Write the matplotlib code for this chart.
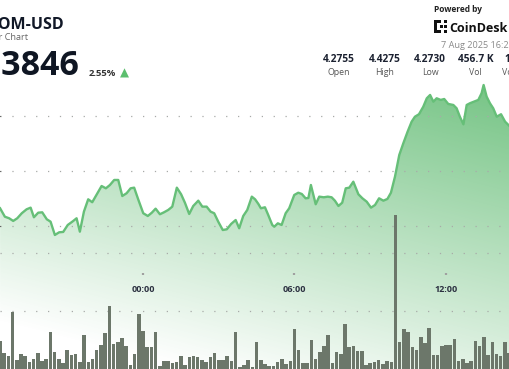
import numpy as np
import matplotlib
matplotlib.use("Agg")
import matplotlib.pyplot as plt
from matplotlib.patches import Rectangle

plt.rcParams['font.family'] = ['Open Sans', 'DejaVu Sans']

# ==========================
# data
# ==========================
# hours relative to 00:00 on 7 Aug 2025
price_hours = [-5.66, -5.47, -5.30, -5.14, -4.98, -4.80, -4.61, -4.45, -4.32, -4.15,
               -3.99, -3.81, -3.66, -3.49, -3.32, -3.16, -2.98, -2.78, -2.63, -2.50,
               -2.34, -2.17, -2.01, -1.83, -1.64, -1.47, -1.31, -1.14, -0.98, -0.82,
               -0.65, -0.49, -0.35, -0.19, 0.01, 0.19, 0.35, 0.50, 0.67, 0.83,
               1.00, 1.16, 1.34, 1.51, 1.66, 1.83, 1.99, 2.19, 2.35, 2.52,
               2.68, 2.82, 2.98, 3.16, 3.32, 3.49, 3.67, 3.81, 3.97, 4.13,
               4.31, 4.44, 4.57, 4.67, 4.83, 4.96, 5.12, 5.20, 5.34, 5.49,
               5.65, 5.79, 5.99, 6.15, 6.29, 6.44, 6.55, 6.65, 6.84, 6.98,
               7.16, 7.32, 7.47, 7.60, 7.74, 7.89, 8.03, 8.17, 8.33, 8.53,
               8.69, 8.86, 9.03, 9.19, 9.35, 9.52, 9.68, 9.82, 9.98, 10.15,
               10.31, 10.48, 10.64, 10.77, 10.93, 11.10, 11.24, 11.37, 11.50, 11.63,
               11.79, 11.93, 12.09, 12.29, 12.42, 12.55, 12.69, 12.82, 12.95, 13.11,
               13.28, 13.41, 13.49, 13.61, 13.74, 13.87, 14.01, 14.18, 14.34, 14.54]
prices = [4.2993, 4.2901, 4.2884, 4.2855, 4.2884, 4.2939, 4.2982, 4.3000, 4.2895, 4.2945,
          4.2949, 4.2873, 4.2847, 4.2702, 4.2731, 4.2735, 4.2811, 4.2851, 4.2884, 4.2738,
          4.2956, 4.3091, 4.3059, 4.3146, 4.3236, 4.3211, 4.3247, 4.3302, 4.3302, 4.3127,
          4.3157, 4.3211, 4.3218, 4.3091, 4.2939, 4.2909, 4.2945, 4.2989, 4.2928, 4.2949,
          4.2975, 4.3011, 4.3218, 4.3146, 4.3054, 4.2931, 4.3018, 4.3076, 4.3011, 4.3011,
          4.2956, 4.2939, 4.2847, 4.2756, 4.2764, 4.2822, 4.2865, 4.2775, 4.2909, 4.2975,
          4.3120, 4.3091, 4.3040, 4.2993, 4.3004, 4.2920, 4.2811, 4.2792, 4.2829, 4.2811,
          4.2939, 4.2993, 4.3138, 4.3163, 4.3149, 4.3102, 4.3105, 4.3247, 4.3037, 4.3120,
          4.3113, 4.3120, 4.3113, 4.3076, 4.3018, 4.3054, 4.3211, 4.3218, 4.3283, 4.3146,
          4.3102, 4.3065, 4.3000, 4.3029, 4.3102, 4.3076, 4.3095, 4.3163, 4.3338, 4.3575,
          4.3702, 4.3829, 4.3938, 4.3992, 4.4019, 4.4101, 4.4193, 4.4229, 4.4156, 4.4193,
          4.4175, 4.4185, 4.4131, 4.4120, 4.4084, 4.3992, 4.3909, 4.4120, 4.4139, 4.4156,
          4.4175, 4.4248, 4.4338, 4.4211, 4.4139, 4.4084, 4.3992, 4.4019, 4.3938, 4.3883]

# 10 minute volume bars (thousand ATOM), first bar at 18:20
vol_start_hour = -5 - 40 / 60
volumes = [4.88, 2.71, 2.29, 9.83, 1.55, 2.53, 2.24, 1.16, 1.67, 2.71,
           1.43, 1.78, 6.43, 2.88, 1.67, 1.09, 3.22, 2.36, 2.64, 1.21,
           5.86, 1.21, 1.72, 3.28, 4.14, 6.15, 10.91, 4.31, 4.60, 5.34,
           3.97, 0.64, 2.53, 9.53, 6.50, 3.84, 3.84, 6.38, 0.47, 1.43,
           1.43, 0.98, 1.21, 2.24, 0.74, 2.02, 2.29, 2.07, 1.55, 1.21,
           2.02, 2.81, 1.50, 1.50, 2.24, 1.43, 6.43, 0.29, 0.69, 1.50,
           0.40, 4.60, 1.55, 0.86, 0.57, 0.52, 1.21, 1.78, 0.81, 1.38,
           6.84, 3.22, 1.09, 0.98, 5.00, 1.78, 2.88, 4.02, 5.81, 1.03,
           2.88, 2.53, 7.71, 3.84, 3.97, 3.15, 3.15, 0.74, 1.09, 1.26,
           1.55, 0.81, 1.43, 1.16, 26.55, 4.60, 6.84, 6.38, 3.79, 3.28,
           5.57, 4.43, 7.07, 2.47, 2.47, 3.91, 4.19, 4.19, 5.12, 1.33,
           1.78, 1.09, 1.38, 4.88, 3.97, 5.47, 2.41, 4.60, 2.53, 2.29,
           4.66, 2.76]

tick_hours = [-6, 0, 6, 12]
tick_labels = ["18:00", "00:00", "06:00", "12:00"]

stat_values = ["4.2755", "4.4275", "4.2730", "456.7 K", "1.95 M"]
stat_names = ["Open", "High", "Low", "Vol", "Vol (USD)"]

W, H = 510, 369
green = '#5cb96e'

fig = plt.figure(figsize=(W / 100, H / 100), dpi=100)
ax = fig.add_axes([0, 0, 1, 1])
x0, x1 = -5.663, 14.535
y0, y1 = 4.1240, 4.5265
ax.set_xlim(x0, x1)
ax.set_ylim(y0, y1)

# gradient under the price line
yy = np.arange(H)[:, None]
xx = np.arange(W)[None, :]
alpha = np.clip(-0.11 + 0.00233 * (H - yy) + 0.3 * xx / W, 0, 0.85)
rgba = np.zeros((H, W, 4))
rgba[..., :3] = matplotlib.colors.to_rgb(green)
rgba[..., 3] = alpha
im = ax.imshow(rgba, extent=[x0, x1, y0, y1], origin='upper', aspect='auto', zorder=0)
poly = ax.fill_between(price_hours, prices, y0, facecolor='none', edgecolor='none')
im.set_clip_path(poly.get_paths()[0], transform=ax.transData)
ax.plot(price_hours, prices, color='#66bf78', lw=1.7, zorder=3, solid_joinstyle='round')

dot_style = dict(color='#a8aaa8', linestyle=(0, (1, 8.5)), linewidth=0.9)
ax.set_yticks([4.28, 4.34, 4.40])
ax.yaxis.grid(True, **dot_style)
ax.set_axisbelow(False)
ax.tick_params(left=False, labelleft=False, bottom=False, labelbottom=False)
for s in ax.spines.values():
    s.set_visible(False)

# volume bars
ax2 = ax.twinx()
bar_hours = vol_start_hour + np.arange(len(volumes)) / 6
ax2.bar(bar_hours, volumes, width=0.14, color='#6c776a', linewidth=0, zorder=2)
ax2.set_ylim(0, H * 0.1724)
ax2.set_yticks([10, 20])
ax2.yaxis.grid(True, **dot_style)
ax2.set_axisbelow(True)
ax2.tick_params(right=False, labelright=False)
for s in ax2.spines.values():
    s.set_visible(False)

# time axis in the middle of the chart
sec = ax.secondary_xaxis((H - 274) / H)
sec.set_xticks(tick_hours, tick_labels)
sec.tick_params(direction='inout', length=1.6, width=1.6, color='#a0a0a0', pad=7,
                labelsize=6.5, labelcolor='#2b3040')
for lab in sec.get_xticklabels():
    lab.set_fontweight('bold')
sec.spines['bottom'].set_visible(False)


def ftext(x, y, s, **kw):
    fig.text(x / W, 1 - y / H, s, **kw)


# header
ftext(63.5, 29.3, "ATOM-USD", ha='right', va='baseline', fontsize=11.5,
      fontweight='bold', color='#111827')
ftext(28.5, 40, "24 Hour Chart", ha='right', va='baseline', fontsize=6.6, color='#666666')
ftext(79.5, 75, "4.3846", ha='right', va='baseline', fontsize=24.5,
      fontweight='bold', color='#0f1623')
ftext(88.5, 76, "2.55%", ha='left', va='baseline', fontsize=6.8,
      fontweight='bold', color='#333333')
ftext(124.5, 73.5, "▲", ha='center', va='center', fontsize=8.5, color='#5cbf6e',
      family='DejaVu Sans')

ftext(434, 12, "Powered by", ha='left', va='baseline', fontsize=6, fontweight='bold',
      color='#222222')
ftext(449, 31.5, "CoinDesk", ha='left', va='baseline', fontsize=9, fontweight='bold',
      color='#111111')
# CoinDesk mark
for (rx, ry, rw, rh) in [(434, 20, 3, 13), (434, 20, 7, 3), (434, 30, 7, 3),
                         (444, 20, 3, 3), (444, 30, 3, 3), (440, 25, 3, 3), (444, 25, 3, 3)]:
    fig.add_artist(Rectangle((rx / W, 1 - (ry + rh) / H), rw / W, rh / H,
                             transform=fig.transFigure, color='#111111', lw=0))
ftext(441, 47.5, "7 Aug 2025 16:21", ha='left', va='baseline', fontsize=6.6, color='#8a8a8a')

for i, (v, n) in enumerate(zip(stat_values, stat_names)):
    cx = 339 + 45.5 * i
    ftext(cx, 61.5, v, ha='center', va='baseline', fontsize=7.3, fontweight='bold',
          color='#1b2130')
    ftext(cx, 75, n, ha='center', va='baseline', fontsize=6.3, color='#555555')

fig.savefig('out.png', dpi=100)
